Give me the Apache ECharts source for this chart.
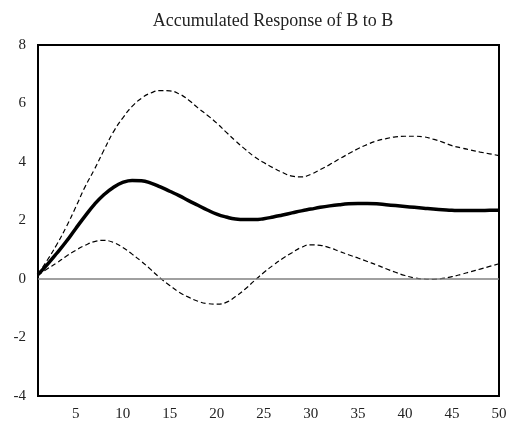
<!DOCTYPE html>
<html>
<head>
<meta charset="utf-8">
<script src="https://cdn.jsdelivr.net/npm/echarts@6/dist/echarts.min.js"></script>
<style>
  html, body { margin: 0; padding: 0; background: #fff; }
  #chart { width: 514px; height: 430px; }
</style>
</head>
<body>
<div id="chart"></div>
<script>
// periods 1..50
const periods = [];
for (let i = 1; i <= 50; i++) periods.push(i);

const xTickLabels = [5, 10, 15, 20, 25, 30, 35, 40, 45, 50];

// accumulated response (solid line)
const response = [
  0.15, 0.5, 0.88, 1.28, 1.72, 2.15, 2.55, 2.88, 3.13, 3.3,
  3.37, 3.36, 3.28, 3.15, 3.0, 2.85, 2.68, 2.52, 2.36, 2.22,
  2.12, 2.05, 2.03, 2.03, 2.06, 2.12, 2.19, 2.26, 2.33, 2.39,
  2.45, 2.5, 2.54, 2.57, 2.58, 2.58, 2.57, 2.54, 2.51, 2.48,
  2.45, 2.42, 2.39, 2.37, 2.35, 2.34, 2.34, 2.34, 2.35, 2.35
];

// +/- 2 S.E. bands (dashed)
const upperBand = [
  0.17, 0.65, 1.18, 1.78, 2.45, 3.15, 3.75, 4.4, 5.02, 5.5,
  5.9, 6.18, 6.36, 6.44, 6.43, 6.33, 6.12, 5.85, 5.6, 5.33,
  5.02, 4.72, 4.44, 4.18, 3.98, 3.8, 3.64, 3.52, 3.49, 3.58,
  3.74, 3.91, 4.1, 4.28, 4.45, 4.6, 4.72, 4.8, 4.86, 4.88,
  4.88, 4.86, 4.78, 4.68, 4.56, 4.48, 4.41, 4.34, 4.28, 4.22
];

const lowerBand = [
  0.13, 0.35, 0.55, 0.78, 0.98, 1.15, 1.28, 1.32, 1.25, 1.08,
  0.85, 0.6, 0.32, 0.03, -0.22, -0.45, -0.62, -0.76, -0.84, -0.86,
  -0.8, -0.6, -0.35, -0.06, 0.22, 0.47, 0.7, 0.9, 1.08, 1.17,
  1.15, 1.07, 0.95, 0.83, 0.72, 0.6, 0.48, 0.35, 0.23, 0.12,
  0.04, 0.0, -0.01, 0.02, 0.08, 0.16, 0.25, 0.34, 0.43, 0.52
];

const pairs = (ys) => periods.map((p, i) => [p, ys[i]]);

const font = '"Liberation Serif", "DejaVu Serif", serif';

const myChart = echarts.init(document.getElementById('chart'));

myChart.setOption({
  animation: false,
  title: {
    text: 'Accumulated Response of B to B',
    left: 268,
    textAlign: 'center',
    top: 7,
    textStyle: { fontFamily: font, fontSize: 18, fontWeight: 'normal', color: '#222' }
  },
  grid: {
    left: 38,
    right: 15,
    top: 45,
    bottom: 34,
    show: true,
    borderColor: '#000',
    borderWidth: 2,
    backgroundColor: 'transparent'
  },
  xAxis: {
    type: 'value',
    min: 1,
    max: 50,
    axisLine: { show: false },
    axisTick: { show: false },
    splitLine: { show: false },
    axisLabel: {
      customValues: xTickLabels,
      margin: 11,
      fontFamily: font,
      fontSize: 15,
      color: '#222'
    }
  },
  yAxis: {
    type: 'value',
    min: -4,
    max: 8,
    interval: 2,
    axisLine: { show: false },
    axisTick: { show: false },
    splitLine: { show: false },
    axisLabel: {
      margin: 12,
      fontFamily: font,
      fontSize: 15,
      color: '#222'
    }
  },
  series: [
    {
      type: 'line',
      data: pairs(upperBand),
      smooth: 0.5,
      showSymbol: false,
      lineStyle: { color: '#000', width: 1.2, type: [5, 3] }
    },
    {
      type: 'line',
      data: pairs(lowerBand),
      smooth: 0.5,
      showSymbol: false,
      lineStyle: { color: '#000', width: 1.2, type: [5, 3] },
      markLine: {
        silent: true,
        symbol: 'none',
        label: { show: false },
        lineStyle: { color: '#808080', width: 1.5, type: 'solid' },
        data: [{ yAxis: 0 }]
      }
    },
    {
      type: 'line',
      data: pairs(response),
      smooth: 0.5,
      showSymbol: false,
      lineStyle: { color: '#000', width: 3.5 }
    }
  ]
});
</script>
</body>
</html>
